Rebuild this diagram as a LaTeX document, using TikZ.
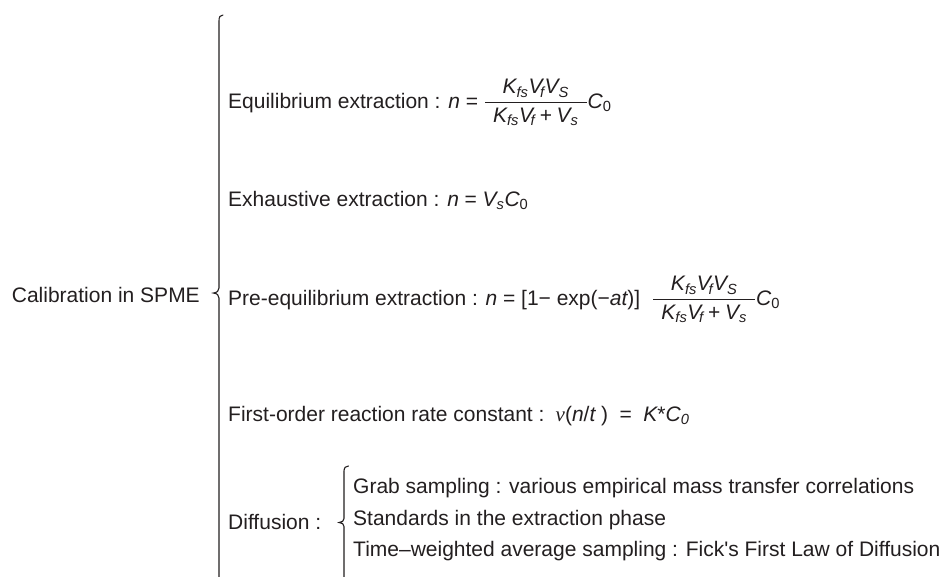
\documentclass[tikz,border=0pt]{standalone}
\usepackage{amsmath}
\usepackage{fontspec}
\setmainfont{Liberation Sans}
\newfontfamily\serifit{Liberation Serif}
\newcommand\mv[1]{\text{\itshape #1}}
\newcommand\mrm[1]{\text{#1}}
\newcommand\eqsign{\mathrel{\text{=}}}
\newcommand\padd[1]{\hspace{8pt}#1\hspace{8pt}}
\newcommand\KVV{\mv{K}_{\mv{fs}}\mv{V}_{\!\mv{f}}\mv{V}_{\mv{S}}}
\newcommand\KVplusV{\mv{K}_{\mv{fs}}\mv{V}_{\!\mv{f}}\mathbin{\text{+}}\mv{V}_{\mv{s}}}
\newcommand\Czero{\mv{C}_{\mrm{0}}}
\newcommand\KVfrac{\dfrac{\padd{\KVV}}{\padd{\KVplusV}}}
\definecolor{ink}{HTML}{231F20}
\tikzset{
  row/.style={anchor=base west, inner sep=0pt, text=ink, font=\fontsize{21}{25}\selectfont},
  brace/.style={draw=ink, line width=1.1pt, line cap=round}
}
\begin{document}
\begin{tikzpicture}[x=1pt,y=-1pt]
\useasboundingbox (0,0) rectangle (950,576);
\clip (0,0) rectangle (950,576);
\fill[white] (0,0) rectangle (950,576);
% root label
\node[row, anchor=base east] (root) at (200,302) {Calibration in SPME};
% main brace
\coordinate (bt) at (223,15);
\coordinate (btip) at (213.5,293);
\draw[brace] (bt) .. controls (220,15) and (219,17) .. (219,21) -- (219,288)
  .. controls (219,291) and (217,292.5) .. (btip)
  .. controls (217,293.5) and (219,295) .. (219,298) -- (219,600);
% branches
\node[row] (eq) at (228,108) {Equilibrium extraction : $\mv{n}\eqsign\KVfrac\Czero$};
\node[row] (ex) at (228,206) {Exhaustive extraction : $\mv{n}\eqsign\mv{V}_{\mv{s}}\Czero$};
\node[row] (pre) at (228,305) {Pre-equilibrium extraction : $\mv{n}\eqsign\mrm{[1−\ exp(−}\mv{at}\mrm{)]}\hspace{12pt}\KVfrac\Czero$};
\node[row] (fo) at (228,421) {First-order reaction rate constant : $\,\text{\serifit\itshape v}\mrm{(}\mv{n}\mrm{/}\mv{t}\;\mrm{)}\;\eqsign\;\mv{K}\mrm{*}\mv{C}_{\mv{0}}$};
\node[row] (dif) at (228,529) {Diffusion :};
% diffusion brace
\coordinate (st) at (348.5,466);
\coordinate (stip) at (339,522.5);
\draw[brace] (st) .. controls (346,466) and (344,467.5) .. (344,471) -- (344,518.5)
  .. controls (344,521) and (342,522.2) .. (stip)
  .. controls (342,522.8) and (344,524) .. (344,526.5) -- (344,600);
\node[row] (grab) at (353,493) {Grab sampling : various empirical mass transfer correlations};
\node[row] (std) at (353,525) {Standards in the extraction phase};
\node[row] (twa) at (353,556) {Time–weighted average sampling : Fick\textquotesingle s First Law of Diffusion};
\end{tikzpicture}
\end{document}
